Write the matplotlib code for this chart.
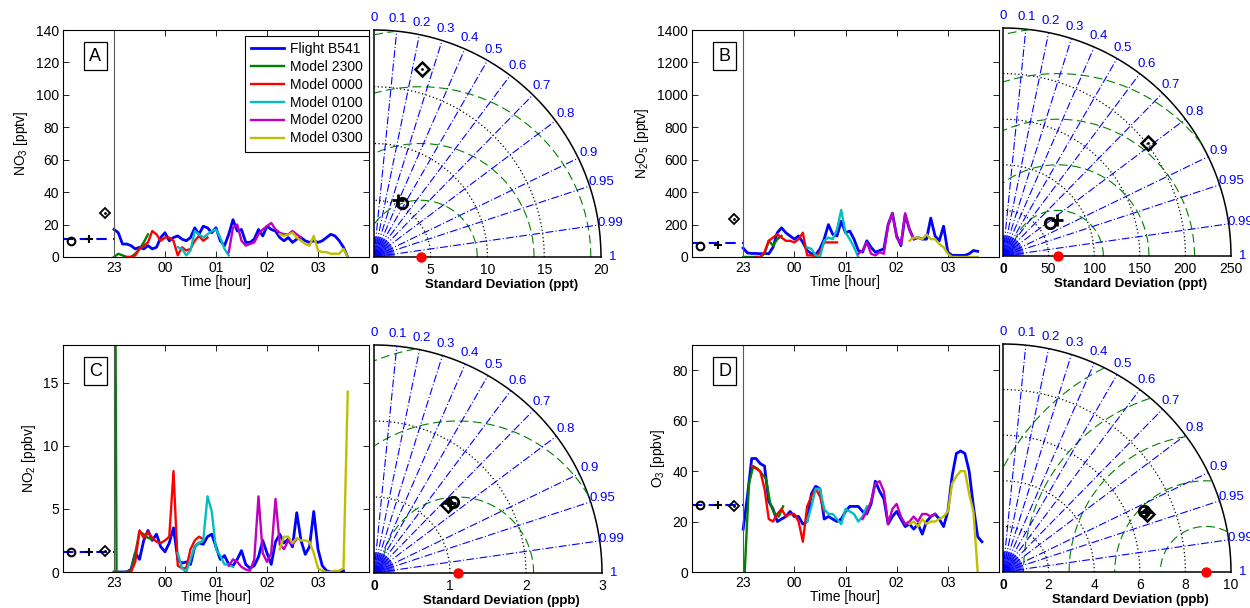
import numpy as np
import matplotlib
matplotlib.use('Agg')
import matplotlib.pyplot as plt

plt.rcParams['font.family'] = ['Liberation Sans', 'DejaVu Sans']
plt.rcParams['font.size'] = 10
plt.rcParams['mathtext.default'] = 'regular'

STEP = 1 / 12  # model / flight values read every 5 minutes
W, H = 1250, 608

hour_ticks = [23, 24, 25, 26, 27]
hour_labels = ['23', '00', '01', '02', '03']
names = ['Flight B541', 'Model 2300', 'Model 0000', 'Model 0100', 'Model 0200', 'Model 0300']
colors = ['b', (0, 0.5, 0), 'r', (0, 0.75, 0.75), (0.75, 0, 0.75), (0.75, 0.75, 0)]
mark_hours = [22.16, 22.5, 22.83]  # o, +, diamond left of the 23h line

# ---- A: NO3 [pptv]
a_start = [23.0, 23.0, 23.25, 24.25, 25.25, 26.25]
a_flight = [17, 15, 8, 8, 7, 5, 6, 5, 7, 5, 6, 12, 15, 10, 12, 13, 11, 10, 12, 18,
            14, 19, 18, 15, 18, 10, 7, 14, 23, 16, 17, 9, 9, 11, 17, 13, 19, 17, 16, 12,
            10, 12, 9, 11, 12, 10, 9, 10, 9, 10, 12, 14, 13, 10, 6, 0]
a_m2300 = [0, 2, 1, 0, 0, 2, 5, 9, 14]
a_m0000 = [0, 0, 1, 5, 7, 9, 16, 14, 10, 12, 12, 10, 1, 6, 4, 5, 10, 13, 10, 12]
a_m0100 = [6, 5, 1, 4, 16, 14, 12, 14, 16, 17, 12, 5, 1]
a_m0200 = [3, 18, 20, 10, 7, 8, 9, 14, 17, 19, 21, 17, 15, 14, 14, 16, 14, 12]
a_m0300 = [14, 13, 14, 15, 12, 10, 8, 7, 13, 4, 3, 3, 2, 2, 2, 5, 0]
a_mean = 11
a_marks = [10, 11, 27]
a_ref = 4.1
a_std = [5.38, 5.47, 17.1]
a_corr = [0.46, 0.39, 0.247]

# ---- B: N2O5 [pptv]
b_start = [23.0, 23.0, 23.25, 24.25, 25.25, 26.25]
b_flight = [55, 25, 22, 22, 20, 22, 20, 60, 150, 180, 150, 130, 110, 130, 90, 40, 20, 15, 50, 110,
            200, 140, 130, 220, 150, 160, 110, 40, 30, 100, 60, 30, 40, 50, 200, 270, 130, 70, 260, 170,
            110, 120, 110, 110, 240, 130, 100, 190, 30, 10, 10, 10, 10, 20, 40, 35]
b_m2300 = [0, 0, 0, 0, 0, 20, 100, 70, 110, 130]
b_m0000 = [0, 0, 30, 100, 120, 140, 120, 100, 100, 90, 110, 150, 10, 10, 5, 30, 90, 90, 90, 90]
b_m0100 = [60, 50, 10, 0, 100, 120, 110, 170, 290, 150, 110, 60, 0]
b_m0200 = [20, 40, 90, 20, 10, 30, 20, 200, 270, 120, 80, 270, 170, 110]
b_m0300 = [100, 120, 120, 110, 140, 110, 110, 80, 60, 20, 0, 0, 0, 0, 0, 0, 0]
b_mean = 88
b_marks = [68, 72, 234]
b_ref = 60
b_std = [63.1, 70.9, 202]
b_corr = [0.816, 0.83, 0.789]

# ---- C: NO2 [ppbv]
c_start = [23.0, None, 23.25, 24.25, 25.25, 26.25]
c_flight = [0, 0, 0, 0, 0.2, 1.5, 1.0, 2.5, 3.3, 2.5, 3.0, 2.0, 1.6, 2.3, 3.5, 1.0, 0.7, 0.8, 0.6, 2.0,
            2.3, 2.2, 2.8, 3.0, 2.0, 1.0, 1.3, 0.6, 0.5, 1.0, 1.7, 0.6, 0.3, 0.5, 1.2, 2.5, 1.5, 0.6, 2.4, 3.0,
            2.3, 2.6, 2.0, 4.7, 2.5, 1.4, 2.0, 4.8, 1.8, 0.5, 0.1, 0, 0, 0, 0.1]
c_m2300_t = [23.03, 23.05, 23.083, 23.167, 23.25, 23.333, 23.417, 23.5, 23.583, 23.667, 23.75]
c_m2300 = [19, 0, 0, 0, 0, 0.1, 1.5, 3.2, 3.0, 2.7, 2.6]
c_m0000 = [0, 0, 0.8, 3.3, 2.7, 3.2, 2.7, 2.4, 2.3, 2.5, 2.8, 8.0, 0.5, 0.3, 0.3, 1.8, 2.5, 2.8, 2.6]
c_m0100 = [1.5, 0.3, 0, 1.0, 2.0, 2.3, 2.5, 6.0, 4.8, 1.8, 1.3, 0.6, 0.6, 0.4]
c_m0200 = [0.5, 1.0, 0.8, 0.4, 0.2, 0.1, 1.0, 6.0, 1.5, 0.8, 1.5, 5.8, 2.2, 1.8, 2.5, 2.2, 2.6]
c_m0300 = [1.8, 2.8, 2.8, 2.3, 2.7, 2.5, 2.5, 2.4, 1.5, 0.3, 0.1, 0, 0, 0.1, 0.1, 0.3, 14.3]
c_mean = 1.55
c_marks = [1.6, 1.6, 1.7]
c_ref = 1.1
c_std = [1.397, 1.36, 1.326]
c_corr = [0.741, 0.736, 0.738]

# ---- D: O3 [ppbv]
d_start = [23.0, 23.03, 23.167, 24.25, 25.333, 26.25]
d_flight = [17, 30, 45, 45, 43, 42, 28, 25, 20, 21, 22, 24, 22, 22, 19, 20, 31, 34, 33, 21,
            22, 21, 20, 21, 24, 26, 26, 26, 24, 23, 27, 36, 32, 29, 19, 22, 24, 21, 18, 19,
            17, 19, 15, 20, 22, 23, 21, 18, 24, 38, 47, 48, 47, 40, 26, 14, 12]
d_m2300 = [0, 35, 42, 41, 39, 37, 27, 23, 22, 26]
d_m0000 = [42, 41, 40, 33, 21, 20, 23, 25, 22, 23, 23, 20, 12, 26, 30, 33, 30, 24]
d_m0100 = [20, 26, 33, 33, 25, 23, 23, 21, 19, 25, 24, 23, 20, 22, 26]
d_m0200 = [21, 24, 28, 35, 36, 32, 19, 25, 27, 22, 19, 20, 22, 20, 23, 23, 22, 23]
d_m0300 = [19, 20, 18, 21, 19, 20, 20, 21, 22, 24, 35, 38, 40, 40, 31, 24, 0]
d_mean = 26.5
d_marks = [26.5, 26.5, 26.3]
d_ref = 8.9
d_std = [6.76, 6.79, 6.82]
d_corr = [0.917, 0.922, 0.928]

corr_ticks = [0, 0.1, 0.2, 0.3, 0.4, 0.5, 0.6, 0.7, 0.8, 0.9, 0.95, 0.99, 1]
rms_green = (0, 0.5, 0)


def rect(x0, y0, x1, y1):
    return [x0 / W, 1 - y1 / H, (x1 - x0) / W, (y1 - y0) / H]


def draw_series(ax, times, values, ylim, yticks, ylabel, letter, mean, marks, legend=False):
    for i, (t, v, c, n) in enumerate(zip(times, values, colors, names)):
        ax.plot(t, v, color=c, lw=2.0 if i == 0 else 1.7, label=n)
    ax.axvline(23, color='0.35', lw=0.8)
    ax.plot([22, 23], [mean, mean], color='b', lw=1.5, ls=(0, (5, 3)))
    ax.plot(mark_hours[0], marks[0], 'o', mfc='none', mec='k', mew=1.5, ms=5.5)
    ax.plot(mark_hours[1], marks[1], '+', mec='k', mew=1.5, ms=6)
    ax.plot(mark_hours[2], marks[2], 'D', mfc='none', mec='k', mew=1.3, ms=5.5)
    ax.plot(mark_hours[2], marks[2], '.', color='k', ms=2)
    ax.set_xlim(22, 28)
    ax.set_ylim(*ylim)
    ax.set_xticks(hour_ticks)
    ax.set_xticklabels(hour_labels)
    ax.set_yticks(yticks)
    ax.tick_params(direction='in', length=4, width=0.6, top=True, right=True, labelsize=10, pad=3)
    for s in ax.spines.values():
        s.set_linewidth(0.8)
    ax.set_xlabel('Time [hour]', labelpad=0)
    ax.set_ylabel(ylabel, labelpad=4)
    ax.text(0.106, 0.885, letter, transform=ax.transAxes, fontsize=13, ha='center', va='center',
            bbox=dict(boxstyle='square,pad=0.3', fc='white', ec='k', lw=0.9))
    if legend:
        lg = ax.legend(loc='upper right', bbox_to_anchor=(1.0, 0.975), borderaxespad=0,
                       fancybox=False, edgecolor='k', framealpha=1, fontsize=10,
                       handlelength=2.4, labelspacing=0.28, borderpad=0.45, handletextpad=0.4)
        lg.get_frame().set_linewidth(0.8)


def draw_taylor(ax, rmax, ticks, ref, stds, corrs, unit):
    ax.set_xlim(0, rmax)
    ax.set_ylim(0, rmax)
    th = np.linspace(0, np.pi / 2, 300)
    ax.plot(rmax * np.cos(th), rmax * np.sin(th), 'k-', lw=1.1, clip_on=False)
    for r in ticks[1:-1]:
        ax.plot(r * np.cos(th), r * np.sin(th), color='k', ls=(0, (1, 2)), lw=0.9)
    # centred RMS difference circles around the reference
    step = ticks[1] - ticks[0]
    t = np.linspace(0, np.pi, 600)
    k = 1
    while k * step <= rmax + 1e-9:
        rr = k * step
        x = ref + rr * np.cos(t)
        y = rr * np.sin(t)
        keep = (x >= 0) & (np.hypot(x, y) <= rmax)
        ax.plot(np.where(keep, x, np.nan), np.where(keep, y, np.nan), color=rms_green,
                ls=(0, (8, 4)), lw=0.8)
        k += 1
    # correlation rays + labels
    for c in corr_ticks:
        a = np.arccos(c)
        if 0 < c < 1:
            ax.plot([0, rmax * np.cos(a)], [0, rmax * np.sin(a)], color='b', ls=(0, (7, 2, 1, 2)), lw=0.8)
        ax.text(1.053 * rmax * np.cos(a), 1.053 * rmax * np.sin(a), f'{c:g}', color='b',
                ha='center', va='center', fontsize=9.5)
    for a in np.radians(np.arange(0, 91, 3)):
        ax.plot([0, 0.09 * rmax * np.cos(a)], [0, 0.09 * rmax * np.sin(a)], color='b', lw=0.5)
    ax.plot(ref, 0, 'o', color='r', ms=6.5, clip_on=False, zorder=6)
    sx = [s * c for s, c in zip(stds, corrs)]
    sy = [s * np.sqrt(1 - c ** 2) for s, c in zip(stds, corrs)]
    ax.plot(sx[0], sy[0], 'o', mfc='none', mec='k', mew=2, ms=7.5, zorder=5)
    ax.plot(sx[1], sy[1], '+', mec='k', mew=2, ms=8, zorder=5)
    ax.plot(sx[2], sy[2], 'D', mfc='none', mec='k', mew=1.8, ms=7, zorder=5)
    ax.plot(sx[2], sy[2], '.', color='k', ms=2, zorder=5)
    ax.spines['top'].set_visible(False)
    ax.spines['right'].set_visible(False)
    ax.spines['left'].set_linewidth(1.1)
    ax.spines['bottom'].set_linewidth(1.1)
    ax.set_xticks(ticks)
    ax.set_xticklabels([f'{v:g}' for v in ticks])
    ax.get_xticklabels()[0].set_fontweight('bold')
    ax.set_yticks([])
    ax.tick_params(axis='x', length=0, pad=4, labelsize=10)
    ax.set_xlabel(f'Standard Deviation ({unit})', fontweight='bold', fontsize=9.5, labelpad=2)
    ax.xaxis.label.set_x(0.56)
    ax.patch.set_alpha(0)


def series_times(starts, vals):
    return [s + STEP * np.arange(len(v)) for s, v in zip(starts, vals)]


fig = plt.figure(figsize=(W / 100, H / 100), dpi=100)

a_vals = [a_flight, a_m2300, a_m0000, a_m0100, a_m0200, a_m0300]
b_vals = [b_flight, b_m2300, b_m0000, b_m0100, b_m0200, b_m0300]
c_vals = [c_flight, c_m2300, c_m0000, c_m0100, c_m0200, c_m0300]
d_vals = [d_flight, d_m2300, d_m0000, d_m0100, d_m0200, d_m0300]

c_times = [c_start[0] + STEP * np.arange(len(c_flight)), np.array(c_m2300_t)] + \
    series_times(c_start[2:], c_vals[2:])

ax = fig.add_axes(rect(63, 30, 369, 257))
draw_series(ax, series_times(a_start, a_vals), a_vals, (0, 140), range(0, 141, 20),
            'NO$_3$ [pptv]', 'A', a_mean, a_marks, legend=True)
ax = fig.add_axes(rect(692, 30, 999, 257))
draw_series(ax, series_times(b_start, b_vals), b_vals, (0, 1400), range(0, 1401, 200),
            'N$_2$O$_5$ [pptv]', 'B', b_mean, b_marks)
ax = fig.add_axes(rect(63, 345, 369, 572))
draw_series(ax, c_times, c_vals, (0, 18), [0, 5, 10, 15],
            'NO$_2$ [ppbv]', 'C', c_mean, c_marks)
ax = fig.add_axes(rect(692, 345, 999, 572))
draw_series(ax, series_times(d_start, d_vals), d_vals, (0, 90), range(0, 81, 20),
            'O$_3$ [ppbv]', 'D', d_mean, d_marks)

draw_taylor(fig.add_axes(rect(374, 30, 601, 257)), 20, [0, 5, 10, 15, 20], a_ref, a_std, a_corr, 'ppt')
draw_taylor(fig.add_axes(rect(1003, 28, 1231, 256)), 250, [0, 50, 100, 150, 200, 250], b_ref, b_std, b_corr, 'ppt')
draw_taylor(fig.add_axes(rect(374, 345, 602, 573)), 3, [0, 1, 2, 3], c_ref, c_std, c_corr, 'ppb')
draw_taylor(fig.add_axes(rect(1003, 344, 1231, 572)), 10, [0, 2, 4, 6, 8, 10], d_ref, d_std, d_corr, 'ppb')

fig.savefig('out.png', dpi=100)
